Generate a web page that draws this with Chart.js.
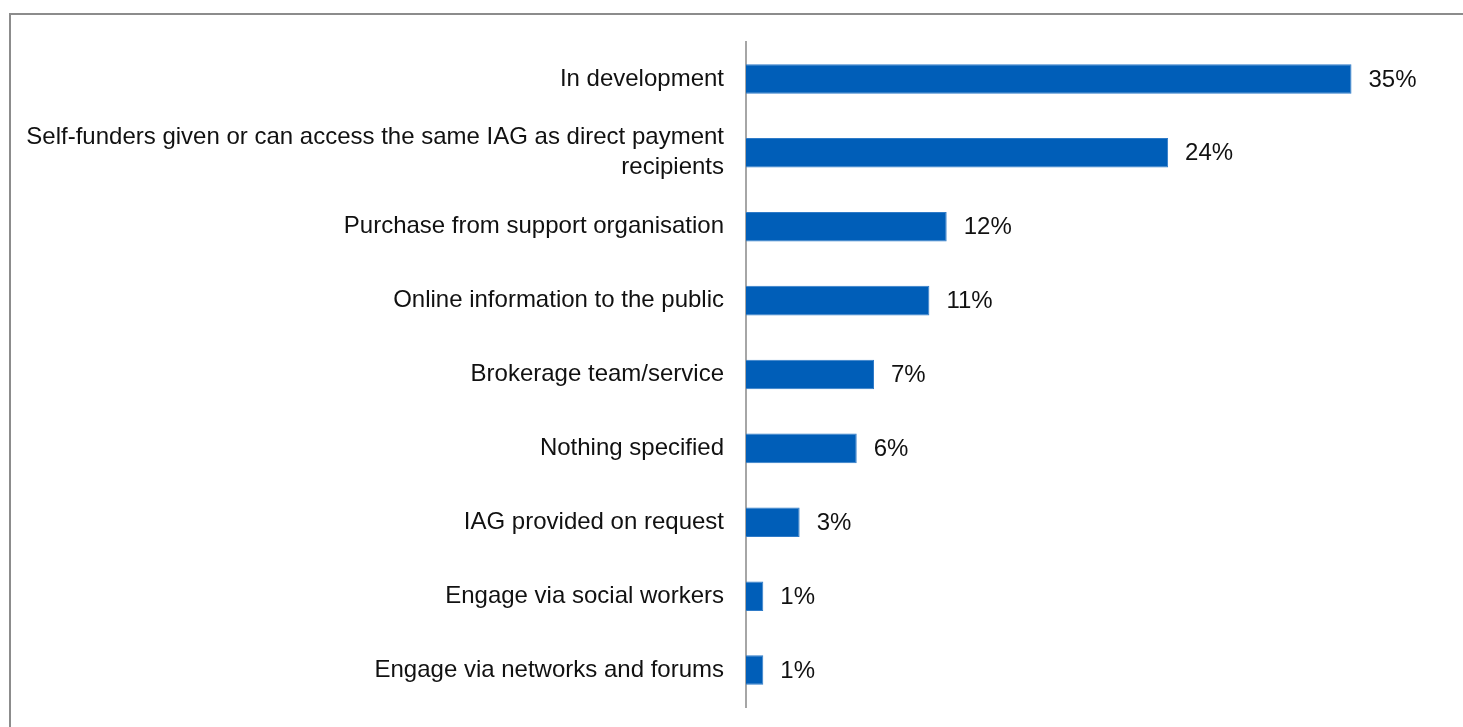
<!DOCTYPE html>
<html>
<head>
<meta charset="utf-8">
<script src="https://cdn.jsdelivr.net/npm/chart.js@4/dist/chart.umd.min.js"></script>
<style>
  html, body { margin: 0; padding: 0; background: #ffffff; }
  body { width: 1463px; height: 727px; position: relative; overflow: hidden; }
  #frame { position: absolute; left: 9px; top: 13px; width: 1470px; height: 730px;
           border-left: 2px solid #8c8c8c; border-top: 2px solid #8c8c8c; box-sizing: border-box; }
  #wrap { position: absolute; left: 0; top: 0; width: 1463px; height: 727px; }
</style>
</head>
<body>
<div id="frame"></div>
<div id="wrap"><canvas id="c" width="1463" height="727"></canvas></div>
<script>
const categories = [
  "In development",
  ["Self-funders given or can access the same IAG as direct payment", "recipients"],
  "Purchase from support organisation",
  "Online information to the public",
  "Brokerage team/service",
  "Nothing specified",
  "IAG provided on request",
  "Engage via social workers",
  "Engage via networks and forums"
];
const values = [35, 24.4, 11.6, 10.6, 7.4, 6.4, 3.1, 1.0, 1.0];
const valueLabels = ["35%", "24%", "12%", "11%", "7%", "6%", "3%", "1%", "1%"];
const axisMax = 40;

const FONT = "Liberation Sans, Arial, sans-serif";

const dataLabelPlugin = {
  id: 'dataLabels',
  afterDatasetsDraw(chart) {
    const ctx = chart.ctx;
    const meta = chart.getDatasetMeta(0);
    ctx.save();
    ctx.font = "24px " + FONT;
    ctx.fillStyle = "#111111";
    ctx.textBaseline = "middle";
    ctx.textAlign = "left";
    meta.data.forEach((bar, i) => {
      ctx.fillText(valueLabels[i], bar.x + 17, bar.y + 1);
    });
    ctx.restore();
  }
};

new Chart(document.getElementById('c'), {
  type: 'bar',
  data: {
    labels: categories,
    datasets: [{
      data: values,
      backgroundColor: '#005EB8',
      borderColor: '#2f7bc8',
      borderWidth: 1,
      categoryPercentage: 1.0,
      barPercentage: 0.4
    }]
  },
  options: {
    indexAxis: 'y',
    responsive: false,
    animation: false,
    devicePixelRatio: 1,
    layout: { padding: { top: 42, bottom: 20, right: 25, left: 0 } },
    plugins: { legend: { display: false }, tooltip: { enabled: false } },
    scales: {
      x: {
        display: false,
        min: 0,
        max: axisMax
      },
      y: {
        grid: { display: false, drawTicks: false },
        border: { display: true, color: '#a6a6a6', width: 2 },
        ticks: {
          color: '#111111',
          font: { family: FONT, size: 24, lineHeight: 1.25 },
          padding: 22,
          autoSkip: false
        },
        afterFit(scale) { scale.width = 746; scale.paddingTop = 0; scale.paddingBottom = 0; }
      }
    }
  },
  plugins: [dataLabelPlugin]
});
</script>
</body>
</html>
